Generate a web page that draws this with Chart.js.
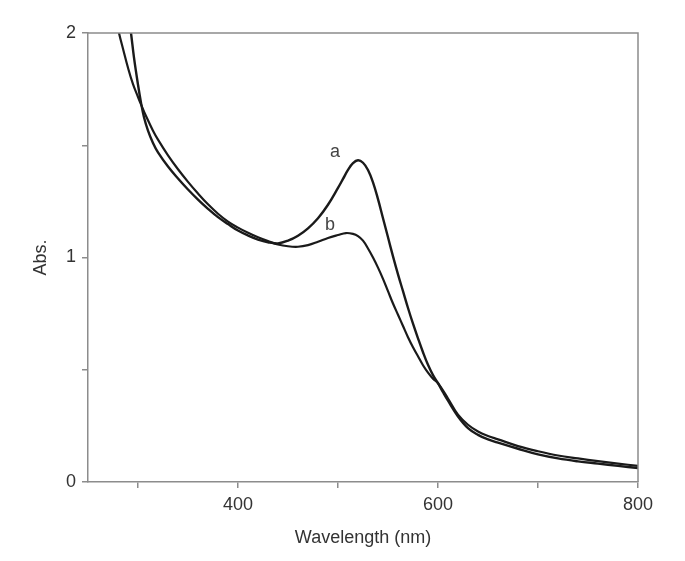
<!DOCTYPE html>
<html>
<head>
<meta charset="utf-8">
<script src="https://cdn.jsdelivr.net/npm/chart.js@4"></script>
<style>
  html, body { margin: 0; padding: 0; background: #fff; }
  #chart { display: block; }
</style>
</head>
<body>
<canvas id="chart" width="685" height="561"></canvas>
<script>
// wavelength (nm) and absorbance
const wavelengthA = [270, 280, 285, 290, 293, 296, 300, 303, 306, 310, 315, 320, 330, 340, 350, 360, 370, 380, 390, 400,
  410, 420, 430, 440, 450, 460, 470, 480, 490, 500, 505, 510, 515, 520, 525, 530, 535, 540, 545, 550,
  555, 560, 565, 570, 575, 580, 585, 590, 595, 600, 605, 610, 620, 630, 640, 650, 660, 680, 700, 720,
  740, 760, 780, 800];
const absA = [2.8, 2.45, 2.26, 2.1, 2.0, 1.89, 1.77, 1.69, 1.625, 1.565, 1.51, 1.468, 1.405, 1.352, 1.303, 1.258, 1.217, 1.18, 1.149, 1.12,
  1.098, 1.08, 1.068, 1.063, 1.075, 1.097, 1.13, 1.175, 1.235, 1.31, 1.35, 1.39, 1.42, 1.433, 1.422, 1.39, 1.335, 1.26, 1.175, 1.09,
  1.005, 0.925, 0.85, 0.775, 0.705, 0.64, 0.578, 0.522, 0.476, 0.44, 0.4, 0.362, 0.292, 0.24, 0.21, 0.19, 0.175, 0.148, 0.123, 0.105,
  0.092, 0.082, 0.072, 0.062];

const wavelengthB = [265, 270, 275, 281, 285, 290, 295, 300, 303, 308, 315, 320, 330, 340, 350, 360, 370, 380, 390, 400,
  410, 420, 430, 440, 450, 460, 470, 480, 490, 500, 508, 515, 520, 525, 530, 535, 540, 545, 550, 555,
  560, 565, 570, 575, 580, 585, 590, 595, 600, 610, 620, 630, 640, 650, 660, 680, 700, 720, 740, 760,
  780, 800];
const absB = [2.38, 2.25, 2.13, 2.0, 1.93, 1.845, 1.772, 1.715, 1.682, 1.63, 1.565, 1.525, 1.455, 1.393, 1.337, 1.285, 1.237, 1.195, 1.16, 1.133,
  1.11, 1.09, 1.073, 1.058, 1.05, 1.048, 1.055, 1.07, 1.087, 1.1, 1.109, 1.105, 1.095, 1.075, 1.04, 1.0, 0.955, 0.905, 0.85, 0.795,
  0.745, 0.695, 0.645, 0.6, 0.56, 0.52, 0.487, 0.46, 0.44, 0.372, 0.3, 0.255, 0.225, 0.205, 0.19, 0.16, 0.137, 0.118, 0.105, 0.093,
  0.082, 0.072];

const xTicks = [300, 400, 500, 600, 700, 800];
const xTickLabels = ["", "400", "", "600", "", "800"];
const yTicks = [0, 0.5, 1, 1.5, 2];
const yTickLabels = ["0", "", "1", "", "2"];

// curve labels "a" and "b": [wavelength, abs]
const curveLabels = [["a", 497, 1.47], ["b", 492, 1.145]];

const toPoints = (xs, ys) => xs.map((x, i) => ({ x: x, y: ys[i] }));

const axisGray = "#8c8c8c";
const textColor = "#333";
const fontFamily = "'Liberation Sans', Arial, sans-serif";

const frameAndLabels = {
  id: "frameAndLabels",
  afterDatasetsDraw(chart) {
    const { ctx, chartArea, scales } = chart;
    ctx.save();
    ctx.strokeStyle = axisGray;
    ctx.lineWidth = 1.5;
    ctx.beginPath();
    ctx.moveTo(chartArea.left, chartArea.top);
    ctx.lineTo(chartArea.right, chartArea.top);
    ctx.lineTo(chartArea.right, chartArea.bottom);
    ctx.stroke();

    ctx.fillStyle = "#444";
    ctx.font = "18px " + fontFamily;
    ctx.textAlign = "center";
    ctx.textBaseline = "middle";
    curveLabels.forEach(([txt, x, y]) => {
      ctx.fillText(txt, scales.x.getPixelForValue(x), scales.y.getPixelForValue(y));
    });
    ctx.restore();
  }
};

new Chart(document.getElementById("chart"), {
  type: "line",
  data: {
    datasets: [
      {
        label: "a",
        data: toPoints(wavelengthA, absA),
        borderColor: "#1a1a1a",
        borderWidth: 2.4,
        pointRadius: 0,
        tension: 0.4
      },
      {
        label: "b",
        data: toPoints(wavelengthB, absB),
        borderColor: "#1a1a1a",
        borderWidth: 2.2,
        pointRadius: 0,
        tension: 0.4
      }
    ]
  },
  options: {
    responsive: false,
    animation: false,
    layout: { padding: { top: 33, right: 47, left: 0, bottom: 0 } },
    plugins: {
      legend: { display: false },
      tooltip: { enabled: false }
    },
    scales: {
      x: {
        type: "linear",
        min: 250,
        max: 800,
        afterFit: (s) => { s.height = 79; },
        afterBuildTicks: (s) => { s.ticks = xTicks.map((v) => ({ value: v })); },
        ticks: {
          color: textColor,
          font: { size: 18, family: fontFamily },
          padding: 6,
          maxRotation: 0,
          autoSkip: false,
          callback: (v) => xTickLabels[xTicks.indexOf(v)]
        },
        grid: { drawOnChartArea: false, drawTicks: true, tickLength: 6, color: axisGray, lineWidth: 1.5 },
        border: { display: true, color: axisGray, width: 1.5 },
        title: {
          display: true,
          text: "Wavelength (nm)",
          color: textColor,
          font: { size: 18, family: fontFamily },
          padding: { top: 0, bottom: 12 }
        }
      },
      y: {
        type: "linear",
        min: 0,
        max: 2,
        afterFit: (s) => { s.width = 88; },
        afterBuildTicks: (s) => { s.ticks = yTicks.map((v) => ({ value: v })); },
        ticks: {
          color: textColor,
          font: { size: 18, family: fontFamily },
          padding: 6,
          autoSkip: false,
          callback: (v) => yTickLabels[yTicks.indexOf(v)]
        },
        grid: { drawOnChartArea: false, drawTicks: true, tickLength: 6, color: axisGray, lineWidth: 1.5 },
        border: { display: true, color: axisGray, width: 1.5 },
        title: {
          display: true,
          text: "Abs.",
          color: textColor,
          font: { size: 18, family: fontFamily },
          padding: { top: 30, bottom: 0 }
        }
      }
    }
  },
  plugins: [frameAndLabels]
});
</script>
</body>
</html>
